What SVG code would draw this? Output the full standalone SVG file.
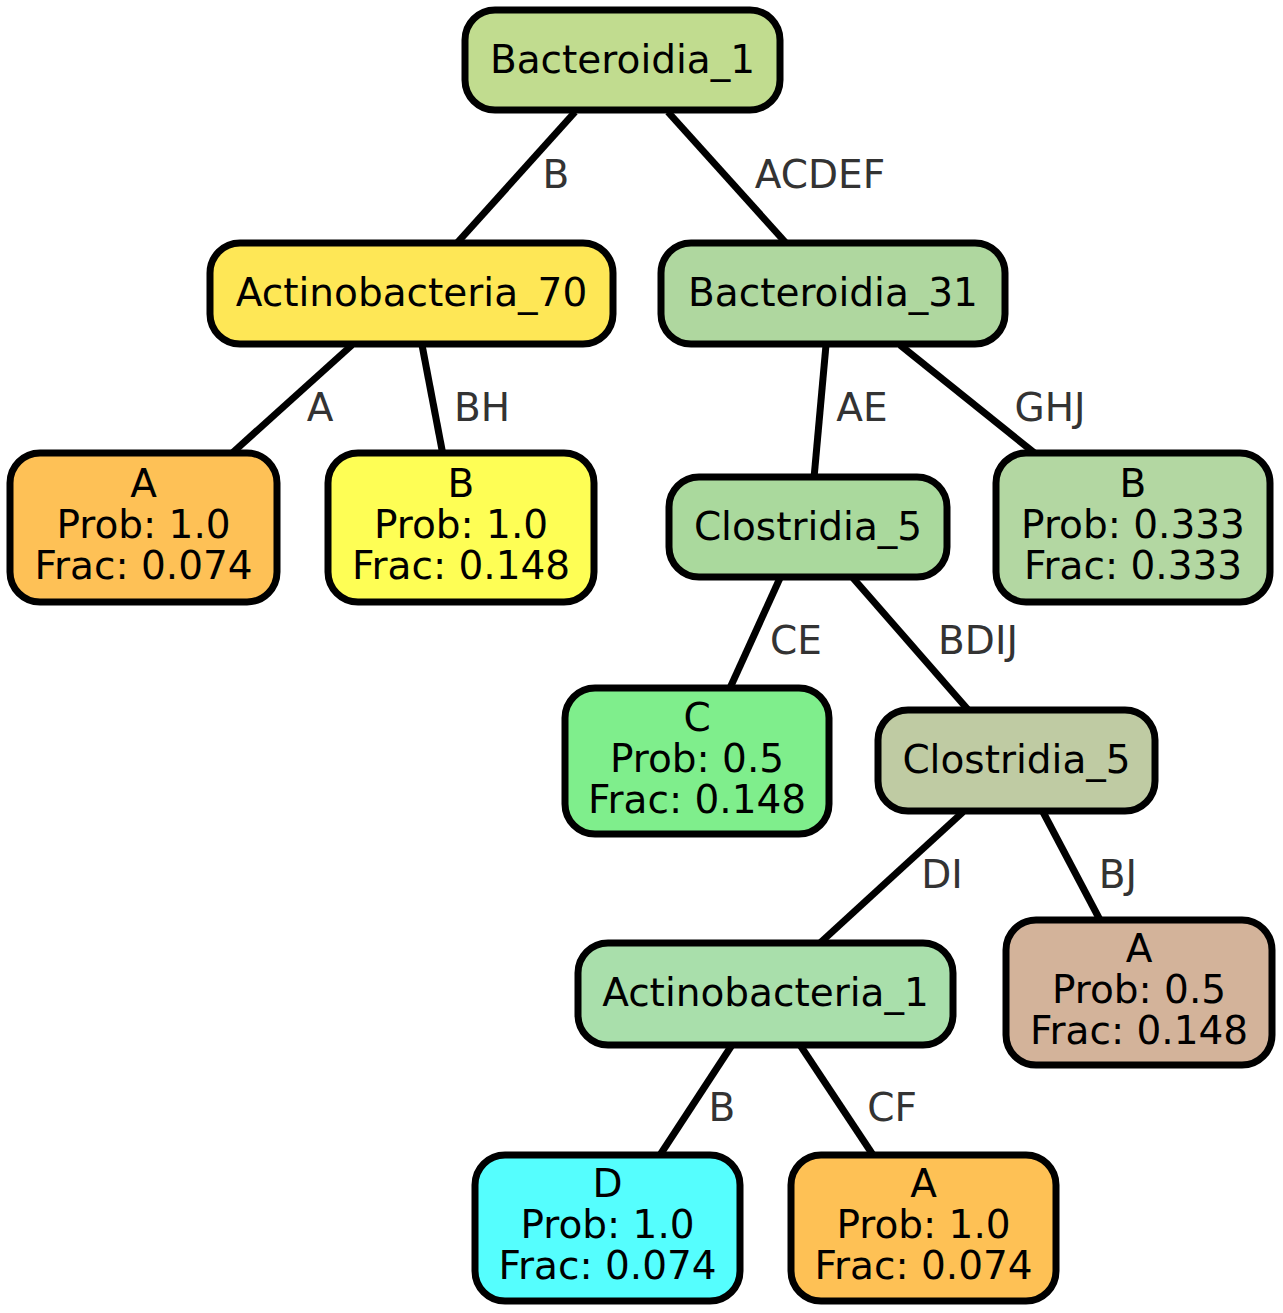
<svg xmlns="http://www.w3.org/2000/svg" width="1283" height="1313" viewBox="0 0 1283 1313">
<style>
.n rect{stroke:#000;stroke-width:7}
text{font-family:"DejaVu Sans",sans-serif;font-size:39px;text-anchor:middle}
.n text{fill:#000}
.lbl{fill:#333}
#edges line{stroke:#000;stroke-width:7}
</style>
<rect width="1283" height="1313" fill="#fff"/>
<g id="edges">
<line x1="575" y1="112" x2="457" y2="243"/>
<line x1="668" y1="112" x2="786" y2="243"/>
<line x1="352" y1="345" x2="230" y2="455"/>
<line x1="422" y1="345" x2="443" y2="455"/>
<line x1="826" y1="345" x2="814" y2="478"/>
<line x1="900" y1="345" x2="1037" y2="455"/>
<line x1="780" y1="578" x2="730" y2="688"/>
<line x1="853" y1="578" x2="970" y2="712"/>
<line x1="963" y1="812" x2="820" y2="943"/>
<line x1="1043" y1="812" x2="1100" y2="920"/>
<line x1="732" y1="1045" x2="660" y2="1155"/>
<line x1="800" y1="1045" x2="873" y2="1155"/>
<text class="lbl" x="556" y="188">B</text>
<text class="lbl" x="820" y="188">ACDEF</text>
<text class="lbl" x="320" y="421">A</text>
<text class="lbl" x="482" y="421">BH</text>
<text class="lbl" x="862" y="421">AE</text>
<text class="lbl" x="1050" y="421">GHJ</text>
<text class="lbl" x="796" y="654">CE</text>
<text class="lbl" x="978" y="654">BDIJ</text>
<text class="lbl" x="942" y="888">DI</text>
<text class="lbl" x="1118" y="888">BJ</text>
<text class="lbl" x="722" y="1121">B</text>
<text class="lbl" x="892" y="1121">CF</text>
</g>
<g id="n1" class="n"><rect x="465" y="10" width="315" height="100" rx="30" fill="#C1DC8F"/><text x="622.5" y="73">Bacteroidia_1</text></g>
<g id="n2" class="n"><rect x="210" y="243" width="403" height="101" rx="30" fill="#FEE756"/><text x="411.5" y="306">Actinobacteria_70</text></g>
<g id="n3" class="n"><rect x="661" y="243" width="344" height="101" rx="30" fill="#AFD79F"/><text x="833" y="306">Bacteroidia_31</text></g>
<g id="n4" class="n"><rect x="10" y="453" width="267" height="149" rx="30" fill="#FEC156"/><text x="143.5" y="497">A</text><text x="143.5" y="538">Prob: 1.0</text><text x="143.5" y="579">Frac: 0.074</text></g>
<g id="n5" class="n"><rect x="328" y="453" width="266" height="149" rx="30" fill="#FEFE55"/><text x="461" y="497">B</text><text x="461" y="538">Prob: 1.0</text><text x="461" y="579">Frac: 0.148</text></g>
<g id="n6" class="n"><rect x="669" y="477" width="278" height="100" rx="30" fill="#AAD99D"/><text x="808" y="540">Clostridia_5</text></g>
<g id="n7" class="n"><rect x="996" y="453" width="274" height="149" rx="30" fill="#B3D7A2"/><text x="1133" y="497">B</text><text x="1133" y="538">Prob: 0.333</text><text x="1133" y="579">Frac: 0.333</text></g>
<g id="n8" class="n"><rect x="565" y="688" width="264" height="146" rx="30" fill="#7FEE8C"/><text x="697" y="731">C</text><text x="697" y="772">Prob: 0.5</text><text x="697" y="813">Frac: 0.148</text></g>
<g id="n9" class="n"><rect x="878" y="710" width="277" height="101" rx="30" fill="#BFCBA3"/><text x="1016.5" y="773">Clostridia_5</text></g>
<g id="n10" class="n"><rect x="578" y="943" width="375" height="102" rx="30" fill="#A9DFAB"/><text x="765.5" y="1006">Actinobacteria_1</text></g>
<g id="n11" class="n"><rect x="1006" y="920" width="266" height="145" rx="30" fill="#D3B39A"/><text x="1139" y="962">A</text><text x="1139" y="1003">Prob: 0.5</text><text x="1139" y="1044">Frac: 0.148</text></g>
<g id="n12" class="n"><rect x="475" y="1155" width="265" height="146" rx="30" fill="#55FEFE"/><text x="607.5" y="1197">D</text><text x="607.5" y="1238">Prob: 1.0</text><text x="607.5" y="1279">Frac: 0.074</text></g>
<g id="n13" class="n"><rect x="791" y="1155" width="265" height="146" rx="30" fill="#FEC155"/><text x="923.5" y="1197">A</text><text x="923.5" y="1238">Prob: 1.0</text><text x="923.5" y="1279">Frac: 0.074</text></g>
</svg>
